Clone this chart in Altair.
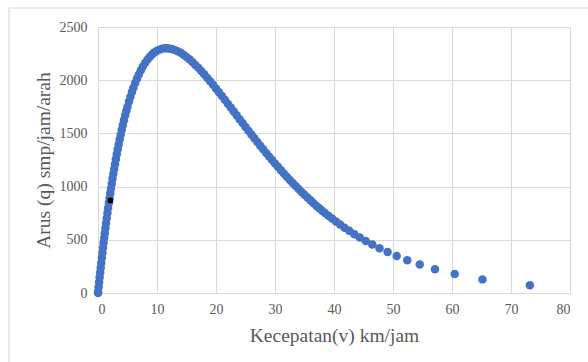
import altair as alt
import pandas as pd

# Speed (km/jam) and flow (smp/jam/arah) points
speed = [0.0, 0.02, 0.1, 0.19, 0.28, 0.37, 0.46, 0.55, 0.65, 0.75, 0.85, 0.95, 1.05, 1.15,
         1.26, 1.37, 1.48, 1.6, 1.72, 1.84, 1.96, 2.08, 2.2, 2.33, 2.46, 2.6, 2.74, 2.88,
         3.03, 3.18, 3.34, 3.5, 3.67, 3.84, 4.02, 4.2, 4.4, 4.6, 4.8, 5.0, 5.25, 5.5, 5.75,
         6.0, 6.3, 6.6, 6.9, 7.25, 7.6, 8.0, 8.4, 8.8, 9.2, 9.6, 10.0, 10.5, 11.0, 11.5,
         12.0, 12.5, 13.0, 13.5, 14.0, 14.5, 15.0, 15.5, 16.0, 16.5, 17.0, 17.5, 18.0, 18.5,
         19.0, 19.5, 20.0, 20.5, 21.0, 21.5, 22.0, 22.5, 23.0, 23.5, 24.0, 24.5, 25.0, 25.5,
         26.0, 26.5, 27.0, 27.5, 28.0, 28.5, 29.0, 29.5, 30.0, 30.5, 31.0, 31.5, 32.0, 32.5,
         33.0, 33.5, 34.0, 34.5, 35.0, 35.5, 36.0, 36.5, 37.0, 37.5, 38.0,
         38.45, 39.04, 39.67, 40.33, 41.04, 41.79, 42.59, 43.45, 44.37, 45.38, 46.49,
         47.71, 49.08, 50.63, 52.42, 54.53, 57.12, 60.46, 65.16, 73.2]
flow = [0, 11, 53, 101, 147, 193, 238, 283, 331, 379, 426, 472, 517, 561,
        609, 656, 702, 751, 799, 846, 892, 937, 981, 1027, 1073, 1120, 1166, 1211,
        1258, 1303, 1350, 1395, 1442, 1487, 1532, 1576, 1623, 1668, 1711, 1751, 1800, 1845, 1888,
        1928, 1973, 2014, 2052, 2092, 2128, 2164, 2195, 2221, 2244, 2262, 2276, 2289, 2297, 2300,
        2299, 2294, 2285, 2273, 2257, 2239, 2219, 2196, 2171, 2144, 2116, 2087, 2056, 2024,
        1990, 1957, 1922, 1887, 1852, 1816, 1779, 1743, 1707, 1670, 1634, 1597, 1561, 1525,
        1490, 1454, 1419, 1384, 1350, 1316, 1283, 1250, 1218, 1186, 1154, 1124, 1093, 1063,
        1034, 1006, 978, 950, 923, 897, 871, 846, 821, 797, 774,
        753, 727, 700, 672, 643, 614, 584, 553, 522, 489, 455,
        421, 385, 347, 308, 267, 224, 178, 128, 72]

# Highlighted observation (black dot)
obs_speed = [2.1]
obs_flow = [870]

x_ticks = [0, 10, 20, 30, 40, 50, 60, 70, 80]
y_ticks = [0, 500, 1000, 1500, 2000, 2500]

df = pd.DataFrame({"v": speed, "q": flow})
df_obs = pd.DataFrame({"v": obs_speed, "q": obs_flow})

FONT = "Liberation Serif"
GRID = "#D9D9D9"
TXT = "#595959"

x_enc = alt.X("v:Q", scale=alt.Scale(domain=[0, 80], nice=False),
              axis=alt.Axis(values=x_ticks, format="d", title="Kecepatan(v) km/jam", grid=True,
                            gridColor=GRID, domain=True, domainColor=GRID, ticks=False,
                            labelPadding=9, labelFontSize=14, labelFont=FONT, labelColor=TXT,
                            titleFont=FONT, titleFontSize=19.5, titleFontWeight="normal",
                            titleColor=TXT, titleY=42, titleBaseline="middle"))
y_enc = alt.Y("q:Q", scale=alt.Scale(domain=[0, 2500], nice=False),
              axis=alt.Axis(values=y_ticks, format="d", title="Arus (q) smp/jam/arah", grid=True,
                            gridColor=GRID, domain=False, ticks=False,
                            labelPadding=11, labelFontSize=14, labelFont=FONT, labelColor=TXT,
                            titleFont=FONT, titleFontSize=19.5, titleFontWeight="normal",
                            titleColor=TXT, titleX=-55, titleY=133, titleAngle=-90,
                            titleAlign="center", titleBaseline="middle"))

curve = alt.Chart(df).mark_circle(size=72, opacity=1, color="#4472C4").encode(x=x_enc, y=y_enc)
obs = alt.Chart(df_obs).mark_circle(size=34, opacity=1, color="#000000").encode(x="v:Q", y="q:Q")

border_left = alt.Chart(df_obs).mark_rule(color=GRID, strokeWidth=1.2).encode(
    x=alt.value(-89), y=alt.value(-19), y2=alt.value(360))
border_top = alt.Chart(df_obs).mark_rule(color=GRID, strokeWidth=1.2).encode(
    x=alt.value(-89), x2=alt.value(520), y=alt.value(-19))

chart = alt.layer(border_left, border_top, curve, obs).properties(
    width=472, height=266,
    autosize=alt.AutoSizeParams(type="none"),
    padding={"left": 98, "top": 27, "right": 18, "bottom": 69},
).configure_view(stroke=None).configure(background="white").configure_axis(
    labelFont=FONT, titleFont=FONT)

chart.save("out.html", embed_options={"renderer": "svg", "actions": False})
